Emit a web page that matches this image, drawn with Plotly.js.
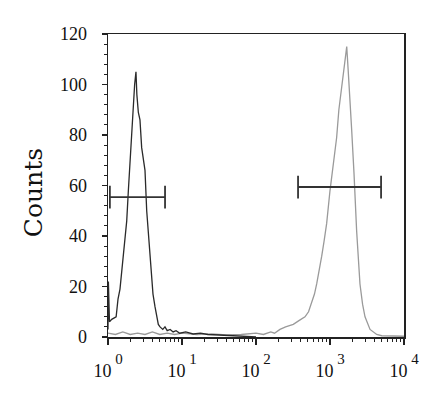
<!DOCTYPE html>
<html>
<head>
<meta charset="utf-8">
<script src="https://cdn.plot.ly/plotly-3.0.1.min.js"></script>
<style>html,body{margin:0;padding:0;background:#fff;}#chart{width:441px;height:399px;}</style>
</head>
<body>
<div id="chart"></div>
<script>
// Left (dark) histogram: fluorescence intensity and counts
var leftIntensity = [1.0, 1.012, 1.047, 1.122, 1.288, 1.365, 1.452, 1.531, 1.611, 1.698, 1.791, 1.884, 1.982, 2.089, 2.198, 2.291, 2.388, 2.455, 2.570, 2.704, 2.851, 3.020, 3.162, 3.334, 3.508, 3.698, 3.890, 4.055, 4.315, 4.550, 4.786, 5.047, 5.495, 5.888, 6.310, 6.918, 7.586, 8.318, 9.333, 11.22, 14.13, 17.78, 22.39, 31.62, 50.12, 79.43, 100];
var leftCounts    = [3, 22, 6, 7, 8, 15, 19, 26, 32, 39, 46, 58, 70, 82, 93, 100, 105, 96, 89, 86, 75, 70, 66, 50, 41, 32, 24, 17, 12, 8, 5, 4, 3, 4, 2.5, 3, 2, 2.5, 1.5, 2, 1.2, 1.5, 1, 0.8, 0.5, 0.3, 0];

// Right (grey) histogram
var rightIntensity = [1.0, 1.259, 1.585, 1.995, 2.512, 3.162, 3.981, 5.012, 6.310, 7.943, 10, 15.85, 25.12, 39.81, 63.10, 100, 125.9, 158.5, 177.8, 210.9, 251.2, 319.2, 380.2, 459.2, 512.9, 566.2, 616.6, 660.7, 716.1, 772.7, 831.8, 901.6, 1000, 1109, 1175, 1230, 1318, 1439, 1514, 1585, 1683, 1758, 1862, 1963, 2109, 2291, 2541, 2754, 2972, 3475, 4276, 5012, 10000];
var rightCounts    = [1.5, 1, 2, 1, 1.5, 1, 2, 1, 1.5, 1, 1.5, 1, 1.2, 0.8, 1, 1.5, 1, 2, 1.5, 3, 4, 5, 6.5, 8, 10, 13.5, 17, 21, 26, 32, 38, 45, 58, 69, 74, 79, 90, 99, 104, 108, 115, 106, 95, 82, 65, 42, 21, 13, 8, 3, 1, 0.5, 0.3];

// Gate markers
var gateLeftX = [1.06, 5.9];
var gateLeftY = [55.4, 55.4];
var gateRightX = [370, 4900];
var gateRightY = [59.4, 59.4];
var gateCap = [4.5, 4.5];

var xTickVals = [1, 10, 100, 1000, 10000];
var xTickText = [
  '10<sup><sup><span style="font-size:15px"> 0</span></sup></sup>',
  '10<sup><sup><span style="font-size:15px"> 1</span></sup></sup>',
  '10<sup><sup><span style="font-size:15px"> 2</span></sup></sup>',
  '10<sup><sup><span style="font-size:15px"> 3</span></sup></sup>',
  '10<sup><sup><span style="font-size:15px"> 4</span></sup></sup>'
];
var yTickVals = [0, 20, 40, 60, 80, 100, 120];
var yTitle = 'Counts';

var serif = 'Liberation Serif, serif';

var traces = [
  {x: rightIntensity, y: rightCounts, type: 'scatter', mode: 'lines',
   line: {color: '#9a9a9a', width: 1.3}, hoverinfo: 'skip'},
  {x: leftIntensity, y: leftCounts, type: 'scatter', mode: 'lines',
   line: {color: '#2a2a2a', width: 1.3}, hoverinfo: 'skip'},
  {x: gateLeftX, y: gateLeftY, type: 'scatter', mode: 'lines',
   line: {color: '#333', width: 1.8},
   error_y: {type: 'data', array: gateCap, symmetric: true, width: 0, thickness: 1.8, color: '#333'}},
  {x: gateRightX, y: gateRightY, type: 'scatter', mode: 'lines',
   line: {color: '#333', width: 1.8},
   error_y: {type: 'data', array: gateCap, symmetric: true, width: 0, thickness: 1.8, color: '#333'}}
];

var layout = {
  width: 441, height: 399,
  margin: {l: 108, r: 37, t: 34, b: 62},
  paper_bgcolor: '#fff', plot_bgcolor: '#fff',
  showlegend: false,
  xaxis: {
    type: 'log', range: [0, 4],
    tickvals: xTickVals, ticktext: xTickText,
    ticks: 'outside', ticklen: 6, tickwidth: 1.2, tickcolor: '#222',
    minor: {ticks: 'outside', ticklen: 3, tickcolor: '#222', tickwidth: 1, dtick: 'D1'},
    showline: true, linecolor: '#222', linewidth: 1.5, mirror: true,
    showgrid: false, zeroline: false,
    ticklabelstandoff: 11,
    tickfont: {family: serif, size: 18, color: '#111'}
  },
  yaxis: {
    range: [0, 120], tickvals: yTickVals,
    ticks: 'outside', ticklen: 5, tickwidth: 1.2, tickcolor: '#222',
    minor: {ticks: 'outside', ticklen: 3, dtick: 4, tickcolor: '#222', tickwidth: 1},
    showline: true, linecolor: '#222', linewidth: 1.5, mirror: true,
    showgrid: false, zeroline: false,
    ticklabelstandoff: 11,
    tickfont: {family: serif, size: 18, color: '#111'}
  },
  annotations: [{
    text: yTitle, xref: 'paper', yref: 'paper', x: -0.253, y: 0.475,
    xanchor: 'center', yanchor: 'middle', textangle: -90, showarrow: false,
    font: {family: 'DejaVu Serif, serif', size: 25, color: '#111'}
  }]
};

Plotly.newPlot('chart', traces, layout, {displayModeBar: false, staticPlot: true});
</script>
</body>
</html>
